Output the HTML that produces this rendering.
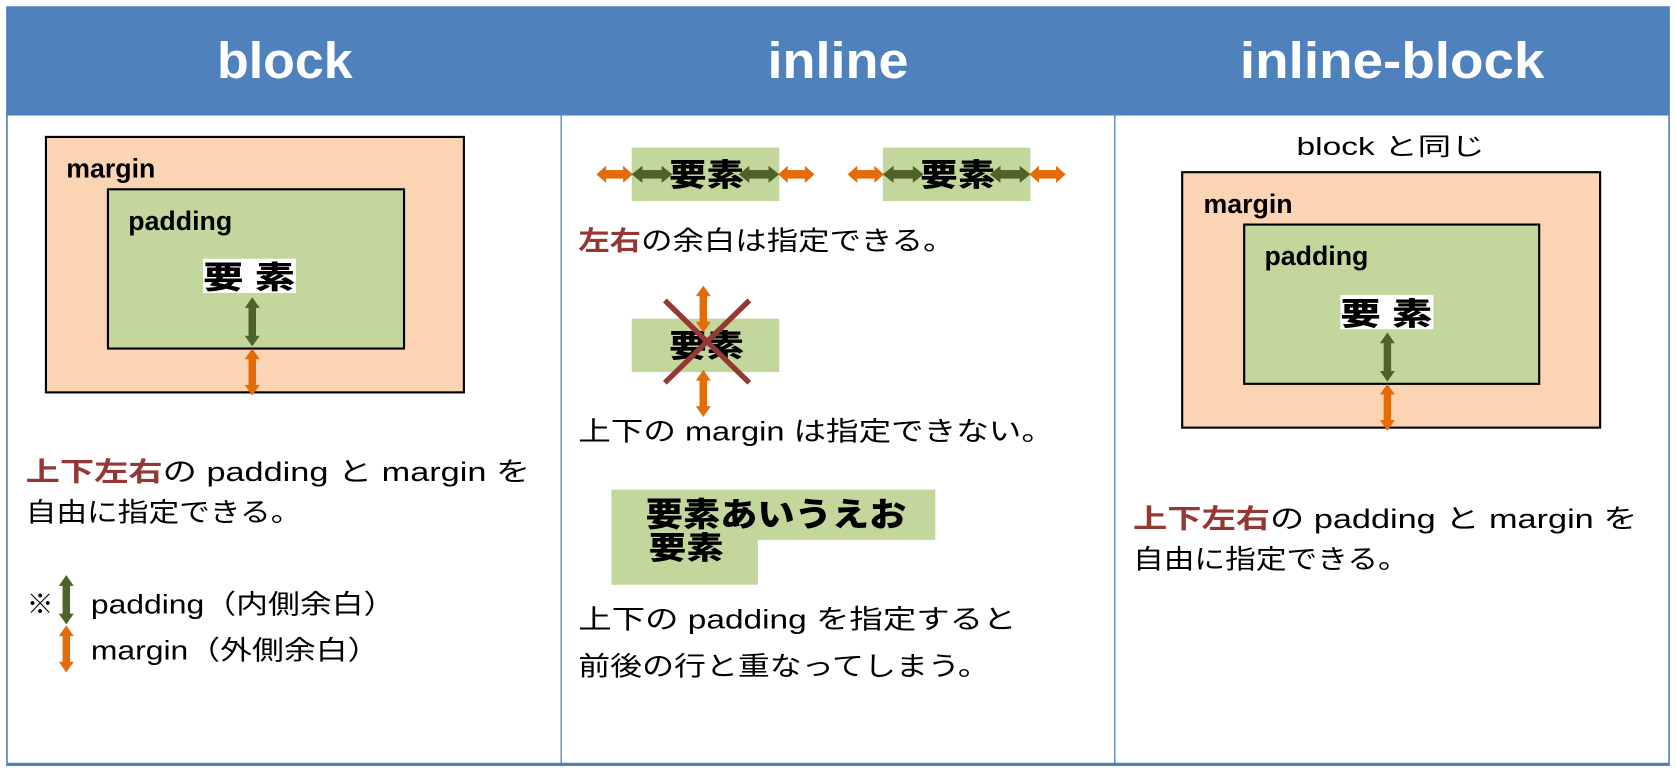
<!DOCTYPE html>
<html><head><meta charset="utf-8"><style>html,body{margin:0;padding:0;background:#fff;width:1676px;height:773px;overflow:hidden}svg{display:block}text{font-family:"Liberation Sans","Noto Sans CJK JP",sans-serif}</style></head><body>
<svg width="1676" height="773" viewBox="0 0 1568 723" xmlns="http://www.w3.org/2000/svg">
<defs>
<g id="vg"><rect x="-3.5" y="8" width="7" height="30" fill="#4f6228"/><path d="M-7,10 L0,0 L7,10Z M-7,36 L0,46 L7,36Z" fill="#4f6228"/></g>
<g id="vo"><rect x="-3.5" y="8" width="7" height="28" fill="#e36c09"/><path d="M-7,10 L0,0 L7,10Z M-7,34 L0,44 L7,34Z" fill="#e36c09"/></g>
<g id="hg"><rect x="8" y="-4" width="22" height="8" fill="#4f6228"/><path d="M10,-8 L0,0 L10,8Z M28,-8 L38,0 L28,8Z" fill="#4f6228"/></g>
<g id="ho"><rect x="7" y="-4" width="20" height="8" fill="#e36c09"/><path d="M9,-8 L0,0 L9,8Z M25,-8 L34,0 L25,8Z" fill="#e36c09"/></g>
</defs>
<rect x="0" y="0" width="1568" height="723" fill="#fff"/>
<rect x="6" y="6" width="1556" height="102" fill="#4f81bd"/>
<rect x="6.5" y="6.5" width="1555" height="709" fill="none" stroke="#4f81bd" stroke-width="1.5"/>
<line x1="6" y1="715" x2="1562" y2="715" stroke="#4f81bd" stroke-width="3"/>
<line x1="525" y1="108" x2="525" y2="715" stroke="#4f81bd" stroke-width="1.2"/>
<line x1="1043" y1="108" x2="1043" y2="715" stroke="#4f81bd" stroke-width="1.2"/>
<g fill="#fff" font-weight="bold" font-size="48">
<text x="203" y="73" textLength="127" lengthAdjust="spacingAndGlyphs">block</text>
<text x="718" y="73" textLength="132" lengthAdjust="spacingAndGlyphs">inline</text>
<text x="1160" y="73" textLength="285" lengthAdjust="spacingAndGlyphs">inline-block</text>
</g>
<!-- col1 -->
<rect x="43" y="128" width="391" height="239" fill="#fbd4b4" stroke="#000" stroke-width="2"/>
<text x="62" y="166" font-size="25" font-weight="bold">margin</text>
<rect x="101" y="177" width="277" height="149" fill="#c3d69b" stroke="#000" stroke-width="2"/>
<text x="120" y="215" font-size="25" font-weight="bold">padding</text>
<rect x="190" y="242" width="87" height="32" fill="#fff"/>
<text x="190" y="270" font-size="29" font-weight="900" textLength="86" lengthAdjust="spacingAndGlyphs">要 素</text>
<use href="#vg" x="236" y="278"/>
<use href="#vo" x="236" y="326"/>
<g font-size="25">
<text x="24" y="450" textLength="472" lengthAdjust="spacingAndGlyphs"><tspan fill="#953735" font-weight="bold">上下左右</tspan>の padding と margin を</text>
<text x="24" y="488" textLength="258" lengthAdjust="spacingAndGlyphs">自由に指定できる。</text>
<text x="25" y="574">※</text>
<text x="85" y="574" textLength="285" lengthAdjust="spacingAndGlyphs">padding（内側余白）</text>
<text x="85" y="617" textLength="270" lengthAdjust="spacingAndGlyphs">margin（外側余白）</text>
</g>
<use href="#vg" x="62" y="538"/>
<use href="#vo" x="62" y="585"/>
<!-- col2 -->
<rect x="591" y="138" width="138" height="50" fill="#c3d69b"/>
<rect x="826" y="138" width="138" height="50" fill="#c3d69b"/>
<g font-size="29" font-weight="900">
<text x="626" y="174" textLength="70" lengthAdjust="spacingAndGlyphs">要素</text>
<text x="861" y="174" textLength="70" lengthAdjust="spacingAndGlyphs">要素</text>
</g>
<use href="#ho" x="558" y="163"/><use href="#hg" x="591" y="163"/><use href="#hg" x="691" y="163"/><use href="#ho" x="728" y="163"/>
<use href="#ho" x="793" y="163"/><use href="#hg" x="826" y="163"/><use href="#hg" x="926" y="163"/><use href="#ho" x="963" y="163"/>
<text x="541" y="234" font-size="25" textLength="352" lengthAdjust="spacingAndGlyphs"><tspan fill="#953735" font-weight="bold">左右</tspan>の余白は指定できる。</text>
<rect x="591" y="298" width="138" height="50" fill="#c3d69b"/>
<text x="626" y="334" font-size="29" font-weight="900" textLength="70" lengthAdjust="spacingAndGlyphs">要素</text>
<line x1="622" y1="281" x2="701" y2="358" stroke="#953735" stroke-width="5"/>
<line x1="701" y1="281" x2="622" y2="358" stroke="#953735" stroke-width="5"/>
<use href="#vo" x="658" y="267"/>
<use href="#vo" x="658" y="346"/>
<text x="541" y="412" font-size="25" textLength="445" lengthAdjust="spacingAndGlyphs">上下の margin は指定できない。</text>
<path d="M572,458 H875 V505 H709 V547 H572Z" fill="#c3d69b"/>
<text x="604" y="492" font-size="31" font-weight="900" textLength="244" lengthAdjust="spacingAndGlyphs">要素あいうえお</text>
<text x="607" y="523" font-size="29" font-weight="900" textLength="70" lengthAdjust="spacingAndGlyphs">要素</text>
<g font-size="25">
<text x="541" y="588" textLength="410" lengthAdjust="spacingAndGlyphs">上下の padding を指定すると</text>
<text x="541" y="632" textLength="385" lengthAdjust="spacingAndGlyphs">前後の行と重なってしまう。</text>
</g>
<!-- col3 -->
<text x="1213" y="145" font-size="23" textLength="176" lengthAdjust="spacingAndGlyphs">block と同じ</text>
<rect x="1106" y="161" width="391" height="239" fill="#fbd4b4" stroke="#000" stroke-width="2"/>
<text x="1126" y="199" font-size="25" font-weight="bold">margin</text>
<rect x="1164" y="210" width="276" height="149" fill="#c3d69b" stroke="#000" stroke-width="2"/>
<text x="1183" y="248" font-size="25" font-weight="bold">padding</text>
<rect x="1254" y="276" width="87" height="32" fill="#fff"/>
<text x="1254" y="304" font-size="29" font-weight="900" textLength="86" lengthAdjust="spacingAndGlyphs">要 素</text>
<use href="#vg" x="1298" y="311"/>
<use href="#vo" x="1298" y="359"/>
<g font-size="25">
<text x="1060" y="494" textLength="472" lengthAdjust="spacingAndGlyphs"><tspan fill="#953735" font-weight="bold">上下左右</tspan>の padding と margin を</text>
<text x="1060" y="532" textLength="258" lengthAdjust="spacingAndGlyphs">自由に指定できる。</text>
</g>
</svg>
</body></html>
